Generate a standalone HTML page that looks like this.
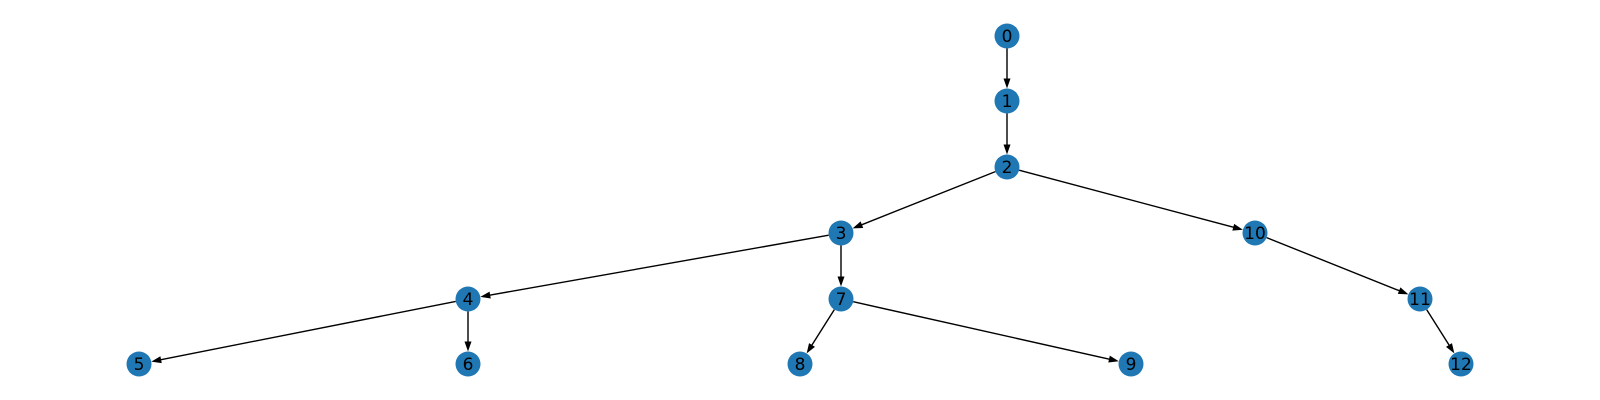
<!DOCTYPE html>
<html><head><meta charset="utf-8"><style>
html,body{margin:0;padding:0;background:#fff;width:1600px;height:400px;overflow:hidden}
svg{display:block}
text{font-family:"DejaVu Sans","Liberation Sans",sans-serif;font-size:17px}
</style></head><body>
<svg id="chart" width="1600" height="400"></svg>
<script>
const nodeIds=[0,1,2,3,4,5,6,7,8,9,10,11,12];
const nodeX=[1007,1007,1007,841,468,139,468,841,800,1131,1255,1420,1461];
const nodeY=[36,101,167,233,299,364,364,299,364,364,233,299,364];
const edgeFrom=[0,1,2,2,3,3,4,4,7,7,10,11];
const edgeTo=[1,2,3,10,4,7,5,6,8,9,11,12];
const NS='http://www.w3.org/2000/svg';
const svg=document.getElementById('chart');
const R=12.5;
const gE=document.createElementNS(NS,'g');


svg.appendChild(gE);
for(let i=0;i<edgeFrom.length;i++){
  const a=edgeFrom[i],b=edgeTo[i];
  const x1=nodeX[a],y1=nodeY[a],x2=nodeX[b],y2=nodeY[b];
  const dx=x2-x1,dy=y2-y1,L=Math.hypot(dx,dy),ux=dx/L,uy=dy/L;
  const sx=x1+ux*R,sy=y1+uy*R,ex=x2-ux*R,ey=y2-uy*R;
  const g=document.createElementNS(NS,'g');
  
  
  const ln=document.createElementNS(NS,'line');
  ln.setAttribute('x1',sx);ln.setAttribute('y1',sy);
  ln.setAttribute('x2',ex-ux*8);ln.setAttribute('y2',ey-uy*8);
  ln.setAttribute('stroke','#000');ln.setAttribute('stroke-width','1.4');
  g.appendChild(ln);
  const bx=ex-ux*10,by=ey-uy*10,px=-uy*3.5,py=ux*3.5;
  const ar=document.createElementNS(NS,'polygon');
  ar.setAttribute('points',`${ex},${ey} ${bx+px},${by+py} ${bx-px},${by-py}`);
  ar.setAttribute('fill','#000');
  g.appendChild(ar);
  gE.appendChild(g);
}
for(let i=0;i<nodeIds.length;i++){
  const g=document.createElementNS(NS,'g');
  
  
  const c=document.createElementNS(NS,'circle');
  c.setAttribute('cx',nodeX[i]);c.setAttribute('cy',nodeY[i]);c.setAttribute('r',R);
  c.setAttribute('fill','#1f77b4');
  g.appendChild(c);
  const t=document.createElementNS(NS,'text');
  t.setAttribute('x',nodeX[i]);t.setAttribute('y',nodeY[i]+6);
  t.setAttribute('text-anchor','middle');
  t.textContent=nodeIds[i];
  g.appendChild(t);
  svg.appendChild(g);
}
</script>
</body></html>
